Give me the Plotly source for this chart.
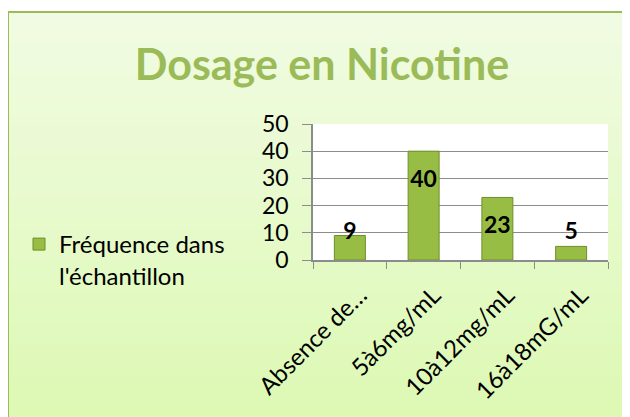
import plotly.graph_objects as go

categories = ["Absence de…", "5à6mg/mL", "10à12mg/mL", "16à18mG/mL"]
values = [9, 40, 23, 5]
series_name = "Fréquence dans<br>l'échantillon"
title_text = "Dosage en Nicotine"
y_ticks = [0, 10, 20, 30, 40, 50]

FONT = "Lato, Carlito, Calibri, sans-serif"
GREEN = "#9BBB59"

# page body has an 8px default margin; lay out in figure coordinates (screen - 8)
W, H = 622, 409
L, R, T, B = 305, 600, 116, 252  # plot area in figure px
PW, PH = R - L, B - T

def px(x):
    return (x - L) / PW

def py(y):
    return (B - y) / PH

fig = go.Figure()
fig.add_trace(go.Bar(
    x=categories, y=values, name=series_name, width=0.42,
    marker=dict(color="#98BD45", line=dict(color="#6E8E2A", width=1)),
    showlegend=True,
))
# data labels
label_y = [max(v - 11, 10) for v in values]
fig.add_trace(go.Scatter(
    x=categories, y=label_y, mode="text", text=[str(v) for v in values],
    textfont=dict(family=FONT, size=23, color="black", weight="bold"),
    textposition="middle center", showlegend=False, hoverinfo="skip",
))

# background frame with vertical gradient
shapes = []
n = 40
top, bot = 4, 420
c0 = (0xF1, 0xFB, 0xE3)
c1 = (0xDC, 0xF9, 0xB2)
for i in range(n):
    t = i / (n - 1)
    c = tuple(int(round(a + (b - a) * t)) for a, b in zip(c0, c1))
    ya = top + (bot - top) * i / n
    yb = top + (bot - top) * (i + 1) / n
    shapes.append(dict(type="rect", xref="paper", yref="paper",
                       x0=px(0), x1=px(640), y0=py(yb + 0.5), y1=py(ya - 0.5),
                       fillcolor="rgb(%d,%d,%d)" % c, line=dict(width=0), layer="below"))
shapes.append(dict(type="rect", xref="paper", yref="paper",
                   x0=px(0), x1=px(640), y0=py(430), y1=py(4),
                   fillcolor="rgba(0,0,0,0)", line=dict(color=GREEN, width=2), layer="below"))
# white plot area
shapes.append(dict(type="rect", xref="paper", yref="paper", x0=0, x1=1, y0=0, y1=1,
                   fillcolor="white", line=dict(width=0), layer="below"))

fig.update_layout(
    width=W, height=H, autosize=False,
    margin=dict(l=L, r=W - R, t=T, b=H - B, autoexpand=False),
    paper_bgcolor="white", plot_bgcolor="rgba(0,0,0,0)",
    shapes=shapes,
    title=dict(text=title_text, x=314 / W, xanchor="center",
               y=1 - 57 / H, yanchor="middle",
               font=dict(family=FONT, size=43, color=GREEN, weight="bold")),
    font=dict(family=FONT, size=24, color="black"),
    legend=dict(x=px(11), y=py(214), xanchor="left", yanchor="top",
                bgcolor="rgba(0,0,0,0)", itemwidth=30, font=dict(size=24),
                valign="top", tracegroupgap=0, itemclick=False),
    bargap=0.58,
)
fig.update_yaxes(range=[0, 50], tickvals=y_ticks, showgrid=True, gridcolor="#8C8C8C",
                 gridwidth=1, showline=True, linecolor="#8C8C8C", linewidth=1.5,
                 ticks="outside", ticklen=9, tickcolor="#8C8C8C", zeroline=False,
                 ticklabelstandoff=9, tickfont=dict(size=23))
fig.update_xaxes(showline=True, linecolor="#8C8C8C", linewidth=1.5, ticks="outside",
                 tickson="boundaries", ticklen=7, tickcolor="#8C8C8C", tickangle=-45,
                 ticklabelstandoff=10, ticklabelshift=10,
                 tickfont=dict(size=24))

fig.write_html("out.html")
